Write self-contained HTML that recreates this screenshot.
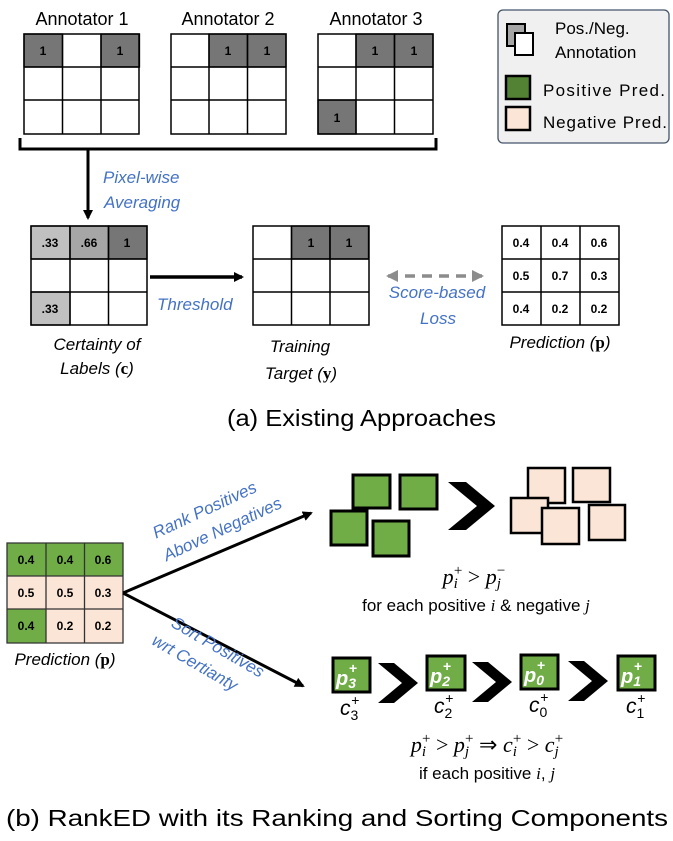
<!DOCTYPE html>
<html><head><meta charset="utf-8"><style>
html,body{margin:0;padding:0;background:#fff;}
svg{display:block;}
text{font-family:"Liberation Sans",sans-serif;}
.b{font-weight:bold;font-size:12px;text-anchor:middle;}
.blue{fill:#4472c4;font-style:italic;font-size:17px;}
.it{font-style:italic;font-size:17px;}
.m{font-family:"Liberation Serif",serif;font-style:italic;}
</style></head><body>
<svg width="673" height="841" viewBox="0 0 673 841" xmlns="http://www.w3.org/2000/svg">
<defs>
<marker id="ah" markerWidth="10" markerHeight="10" refX="8" refY="5" orient="auto" markerUnits="userSpaceOnUse"><path d="M0,0 L10,5 L0,10 z" fill="#000"/></marker>
<marker id="gh" markerWidth="12" markerHeight="12" refX="10" refY="6" orient="auto-start-reverse" markerUnits="userSpaceOnUse"><path d="M0,0 L12,6 L0,12 z" fill="#8c8c8c"/></marker>
</defs>
<g font-size="18" text-anchor="middle">
<text x="82" y="25">Annotator 1</text>
<text x="228" y="25">Annotator 2</text>
<text x="376" y="25">Annotator 3</text>
</g>
<g stroke="#000" stroke-width="1.3">
<rect x="24" y="34" width="38.5" height="33" fill="#767676"/><rect x="101" y="34" width="38.5" height="33" fill="#767676"/>
<rect x="209" y="34" width="38.5" height="33" fill="#767676"/><rect x="247.5" y="34" width="38.5" height="33" fill="#767676"/>
<rect x="356" y="34" width="38.5" height="33" fill="#767676"/><rect x="394.5" y="34" width="38.5" height="33" fill="#767676"/>
<rect x="318" y="100" width="38" height="34" fill="#767676"/>
<rect x="31" y="226" width="39" height="33" fill="#c0c0c0"/><rect x="70" y="226" width="38.5" height="33" fill="#a6a6a6"/><rect x="108.5" y="226" width="38.5" height="33" fill="#767676"/>
<rect x="31" y="292" width="39" height="33" fill="#c0c0c0"/>
<rect x="291.5" y="226" width="38.5" height="33" fill="#767676"/><rect x="330" y="226" width="38.5" height="33" fill="#767676"/>
</g>
<g stroke="#000" stroke-width="1.5" fill="none">
<path d="M24,34h115v100h-115z M62.5,34v100 M101,34v100 M24,67h115 M24,100h115"/>
<path d="M171,34h115v100h-115z M209,34v100 M247.5,34v100 M171,67h115 M171,100h115"/>
<path d="M318,34h115v100h-115z M356,34v100 M394.5,34v100 M318,67h115 M318,100h115"/>
<path d="M31,226h116v99h-116z M70,226v99 M108.5,226v99 M31,259h116 M31,292h116"/>
<path d="M253,226h116v99h-116z M291.5,226v99 M330,226v99 M253,259h116 M253,292h116"/>
<path d="M502,226h117v99h-117z M541,226v99 M580,226v99 M502,259h117 M502,292h117"/>
</g>
<g>
<text x="43" y="55" class="b">1</text><text x="120" y="55" class="b">1</text>
<text x="228" y="55" class="b">1</text><text x="267" y="55" class="b">1</text>
<text x="375" y="55" class="b">1</text><text x="414" y="55" class="b">1</text>
<text x="337" y="122" class="b">1</text>
<text x="50" y="247" class="b">.33</text><text x="89" y="247" class="b">.66</text><text x="127" y="247" class="b">1</text>
<text x="50" y="313" class="b">.33</text>
<text x="311" y="247" class="b">1</text><text x="349" y="247" class="b">1</text>
<text x="521" y="247" class="b">0.4</text><text x="560" y="247" class="b">0.4</text><text x="599" y="247" class="b">0.6</text>
<text x="521" y="280" class="b">0.5</text><text x="560" y="280" class="b">0.7</text><text x="599" y="280" class="b">0.3</text>
<text x="521" y="313" class="b">0.4</text><text x="560" y="313" class="b">0.2</text><text x="599" y="313" class="b">0.2</text>
</g>
<rect x="498" y="10" width="171" height="133" rx="5" fill="#f0f0f0" stroke="#44546a" stroke-width="1.3"/>
<rect x="507" y="24" width="18" height="22" fill="#a6a6a6" stroke="#000" stroke-width="2"/>
<rect x="515" y="33" width="18" height="22" fill="#fff" stroke="#000" stroke-width="2"/>
<rect x="506" y="76" width="24" height="23" fill="#548235" stroke="#000" stroke-width="2.5"/>
<rect x="506" y="107" width="24" height="23" fill="#fbe5d6" stroke="#000" stroke-width="2.5"/>
<g font-size="17"><text x="555" y="34">Pos./Neg.</text><text x="555" y="58">Annotation</text>
<text x="543" y="96" textLength="122">Positive Pred.</text><text x="543" y="128" textLength="124">Negative Pred.</text></g>
<path d="M20,138 V149 H436 V138" fill="none" stroke="#000" stroke-width="3"/>
<line x1="88" y1="149" x2="88" y2="218" stroke="#000" stroke-width="3" marker-end="url(#ah)"/>
<text x="103" y="183" class="blue">Pixel-wise</text>
<text x="104" y="208" class="blue">Averaging</text>
<line x1="150" y1="277" x2="242" y2="277" stroke="#000" stroke-width="3.5" marker-end="url(#ah)"/>
<text x="157" y="310" class="blue">Threshold</text>
<line x1="388" y1="276" x2="482" y2="276" stroke="#8c8c8c" stroke-width="3.5" stroke-dasharray="10,7" marker-start="url(#gh)" marker-end="url(#gh)"/>
<text x="437" y="298" class="blue" text-anchor="middle">Score-based</text>
<text x="438" y="324" class="blue" text-anchor="middle">Loss</text>
<text x="97" y="350" class="it" text-anchor="middle">Certainty of</text>
<text x="97" y="374" class="it" text-anchor="middle">Labels (<tspan font-weight="bold" font-style="normal" font-family="Liberation Serif">c</tspan>)</text>
<text x="300" y="352" class="it" text-anchor="middle">Training</text>
<text x="301" y="379" class="it" text-anchor="middle">Target (<tspan font-weight="bold" font-style="normal" font-family="Liberation Serif">y</tspan>)</text>
<text x="560" y="348" class="it" text-anchor="middle">Prediction (<tspan font-weight="bold" font-style="normal" font-family="Liberation Serif">p</tspan>)</text>
<text x="227" y="426" font-size="23" textLength="269" lengthAdjust="spacingAndGlyphs">(a) Existing Approaches</text>
<g>
<rect x="7" y="543" width="116" height="33" fill="#70ad47"/>
<rect x="7" y="576" width="116" height="33" fill="#fbe5d6"/>
<rect x="7" y="609" width="39" height="34" fill="#70ad47"/>
<rect x="46" y="609" width="77" height="34" fill="#fbe5d6"/>
</g>
<path d="M7,543h116v100h-116z M46,543v100 M84.5,543v100 M7,576h116 M7,609h116" fill="none" stroke="#333" stroke-width="1.3"/>
<g>
<text x="26" y="564" class="b">0.4</text><text x="65" y="564" class="b">0.4</text><text x="103" y="564" class="b">0.6</text>
<text x="26" y="597" class="b">0.5</text><text x="65" y="597" class="b">0.5</text><text x="103" y="597" class="b">0.3</text>
<text x="26" y="630" class="b">0.4</text><text x="65" y="630" class="b">0.2</text><text x="103" y="630" class="b">0.2</text>
</g>
<text x="65" y="665" class="it" text-anchor="middle">Prediction (<tspan font-weight="bold" font-style="normal" font-family="Liberation Serif">p</tspan>)</text>
<line x1="123" y1="593" x2="311" y2="513" stroke="#000" stroke-width="3" marker-end="url(#ah)"/>
<line x1="123" y1="593" x2="303" y2="686" stroke="#000" stroke-width="3" marker-end="url(#ah)"/>
<g transform="translate(207,515) rotate(-25)"><text x="0" y="0" class="blue" font-size="18" text-anchor="middle">Rank Positives</text><text x="8" y="25" class="blue" font-size="18" text-anchor="middle">Above Negatives</text></g>
<g transform="translate(215,652) rotate(30)"><text x="0" y="0" class="blue" font-size="18" text-anchor="middle">Sort Positives</text><text x="-12" y="25" class="blue" font-size="18" text-anchor="middle">wrt Certianty</text></g>
<g fill="#70ad47" stroke="#000" stroke-width="3">
<rect x="353" y="475" width="37" height="33"/>
<rect x="400" y="475" width="37" height="34"/>
<rect x="331" y="511" width="36" height="34"/>
<rect x="373" y="521" width="36" height="35"/>
</g>
<path d="M448,482 L466,482 L495,506 L466,530 L448,530 L477,506 z" fill="#000"/>
<g fill="#fbe5d6" stroke="#000" stroke-width="2.5">
<rect x="528" y="468" width="37" height="35"/>
<rect x="573" y="468" width="37" height="34"/>
<rect x="511" y="498" width="37" height="35"/>
<rect x="589" y="505" width="36" height="35"/>
<rect x="542" y="508" width="37" height="36"/>
</g>
<text x="474" y="584" font-size="22" text-anchor="middle" class="m">p<tspan font-size="15" dy="4">i</tspan><tspan font-size="15" dx="-4" dy="-13" font-style="normal">+</tspan><tspan dy="9" font-style="normal"> &gt; </tspan>p<tspan font-size="15" dy="4">j</tspan><tspan font-size="15" dx="-4" dy="-13" font-style="normal">−</tspan></text>
<text x="476" y="611" font-size="17" text-anchor="middle">for each positive <tspan class="m">i</tspan> &amp; negative <tspan class="m">j</tspan></text>
<g fill="#70ad47" stroke="#000" stroke-width="3">
<rect x="333" y="658" width="37" height="34"/>
<rect x="427" y="656" width="38" height="34"/>
<rect x="521" y="655" width="37" height="34"/>
<rect x="618" y="656" width="37" height="34"/>
</g>
<g fill="#000">
<path d="M378,663 L394,663 L418,683 L394,703 L378,703 L402,683 z"/>
<path d="M472,662 L488,662 L512,682 L488,702 L472,702 L496,682 z"/>
<path d="M568,661 L584,661 L608,681 L584,701 L568,701 L592,681 z"/>
</g>
<g fill="#fff" font-family="Liberation Serif" font-style="italic" font-weight="bold" font-size="20">
<text x="336" y="685" font-family="Liberation Serif">p<tspan font-size="14" dy="3">3</tspan><tspan font-size="14" dx="-7" dy="-15" font-style="normal">+</tspan></text>
<text x="430" y="683" font-family="Liberation Serif">p<tspan font-size="14" dy="3">2</tspan><tspan font-size="14" dx="-7" dy="-15" font-style="normal">+</tspan></text>
<text x="524" y="682" font-family="Liberation Serif">p<tspan font-size="14" dy="3">0</tspan><tspan font-size="14" dx="-7" dy="-15" font-style="normal">+</tspan></text>
<text x="621" y="683" font-family="Liberation Serif">p<tspan font-size="14" dy="3">1</tspan><tspan font-size="14" dx="-7" dy="-15" font-style="normal">+</tspan></text>
</g>
<g font-size="21" font-family="Liberation Serif" font-style="italic">
<text x="340" y="715" font-family="Liberation Serif">c<tspan font-size="14" dy="5" font-style="normal">3</tspan><tspan font-size="14" dx="-7" dy="-15" font-style="normal">+</tspan></text>
<text x="434" y="713" font-family="Liberation Serif">c<tspan font-size="14" dy="5" font-style="normal">2</tspan><tspan font-size="14" dx="-7" dy="-15" font-style="normal">+</tspan></text>
<text x="529" y="712" font-family="Liberation Serif">c<tspan font-size="14" dy="5" font-style="normal">0</tspan><tspan font-size="14" dx="-7" dy="-15" font-style="normal">+</tspan></text>
<text x="626" y="713" font-family="Liberation Serif">c<tspan font-size="14" dy="5" font-style="normal">1</tspan><tspan font-size="14" dx="-7" dy="-15" font-style="normal">+</tspan></text>
</g>
<text x="487" y="752" font-size="22" text-anchor="middle" class="m">p<tspan font-size="15" dy="4">i</tspan><tspan font-size="15" dx="-4" dy="-13" font-style="normal">+</tspan><tspan dy="9" font-style="normal"> &gt; </tspan>p<tspan font-size="15" dy="4">j</tspan><tspan font-size="15" dx="-4" dy="-13" font-style="normal">+</tspan><tspan dy="9" font-style="normal">  ⇒ </tspan>c<tspan font-size="15" dy="4">i</tspan><tspan font-size="15" dx="-4" dy="-13" font-style="normal">+</tspan><tspan dy="9" font-style="normal"> &gt; </tspan>c<tspan font-size="15" dy="4">j</tspan><tspan font-size="15" dx="-4" dy="-13" font-style="normal">+</tspan></text>
<text x="487" y="779" font-size="17" text-anchor="middle">if each positive <tspan class="m">i</tspan>, <tspan class="m">j</tspan></text>
<text x="6" y="826" font-size="23" textLength="662" lengthAdjust="spacingAndGlyphs">(b) RankED with its Ranking and Sorting Components</text>
</svg>
</body></html>
